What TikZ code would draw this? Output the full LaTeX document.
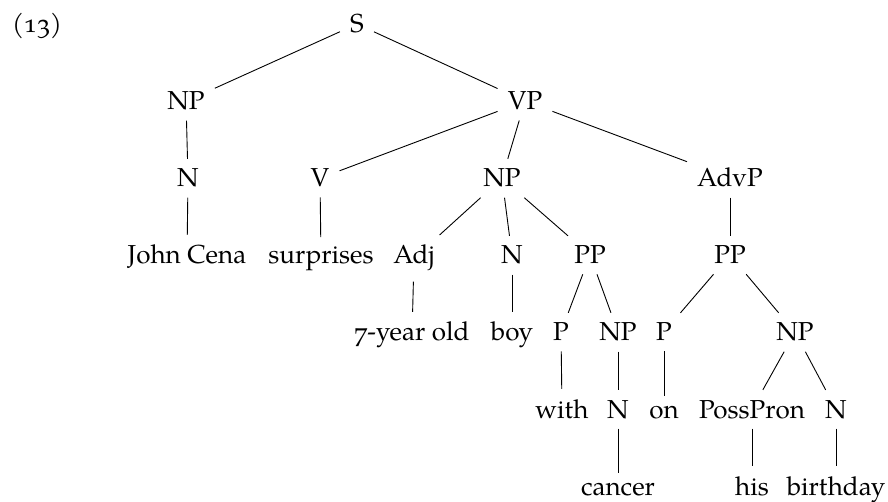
\documentclass[tikz,border=0pt]{standalone}
\usepackage{fontspec}
\setmainfont{TeX Gyre Pagella}[Numbers={OldStyle,Monospaced}]
\begin{document}
\begin{tikzpicture}[x=1pt, y=-1pt,
  font=\fontsize{26}{31}\selectfont,
  cat/.style={inner sep=10pt, anchor=base},
  branch/.style={line width=0.9pt, draw=black}]
\useasboundingbox (0,0) rectangle (888,502);

% example number
\node[anchor=base west, inner sep=0pt] (exnum) at (12,33) {(13)};

% row 0
\node[cat] (s) at (357,33) {S};
% row 1
\node[cat] (np1) at (186,110) {NP};
\node[cat] (vp) at (525,110) {VP};
% row 2
\node[cat] (n1) at (188,187) {N};
\node[cat] (v) at (320,187) {V};
\node[cat] (np2) at (502,187) {NP};
\node[cat] (advp) at (730,187) {AdvP};
% row 3
\node[cat] (jc) at (187,264) {John Cena};
\node[cat] (surp) at (321,264) {surprises};
\node[cat] (adj) at (414,264) {Adj};
\node[cat] (n2) at (512,264) {N};
\node[cat] (pp1) at (590,264) {PP};
\node[cat] (pp2) at (730,264) {PP};
% row 4
\node[cat] (yo) at (412,341) {7-year old};
\node[cat] (boy) at (512,341) {boy};
\node[cat] (p1) at (561,341) {P};
\node[cat] (np3) at (618,341) {NP};
\node[cat] (p2) at (664,341) {P};
\node[cat] (np4) at (795,341) {NP};
% row 5
\node[cat] (with) at (562,418) {with};
\node[cat] (n3) at (618,418) {N};
\node[cat] (on) at (664,418) {on};
\node[cat] (poss) at (752,418) {PossPron};
\node[cat] (n4) at (836,418) {N};
% row 6
\node[cat] (cancer) at (618,495) {cancer};
\node[cat] (his) at (752,495) {his};
\node[cat] (bday) at (836,495) {birthday};

% branches
\foreach \a/\b in {s/np1, s/vp, np1/n1, n1/jc,
                   vp/v, vp/np2, vp/advp, v/surp,
                   np2/adj, np2/n2, np2/pp1, adj/yo, n2/boy,
                   pp1/p1, pp1/np3, p1/with, np3/n3, n3/cancer,
                   advp/pp2, pp2/p2, pp2/np4, p2/on,
                   np4/poss, np4/n4, poss/his, n4/bday}
  \draw[branch] (\a) -- (\b);
\end{tikzpicture}
\end{document}
